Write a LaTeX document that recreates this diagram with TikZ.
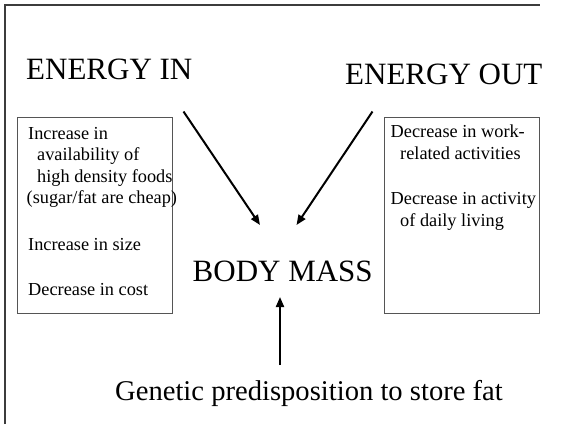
\documentclass[tikz,border=0pt]{standalone}
\usepackage{fontspec}
\setmainfont{Liberation Serif}
\usetikzlibrary{arrows.meta}
\definecolor{boxgray}{RGB}{85,85,85}
\definecolor{framegray}{RGB}{60,60,60}
\tikzset{
  small/.style={anchor=base west,inner sep=0pt,font=\fontsize{18.3}{21.5}\selectfont},
  big/.style={anchor=base west,inner sep=0pt,font=\fontsize{31}{36}\selectfont},
  gen/.style={anchor=base west,inner sep=0pt,font=\fontsize{28.6}{34}\selectfont},
  listbox/.style={draw=boxgray,line width=0.9pt,inner sep=0pt,anchor=north west},
  arr/.style={line width=2pt,-{Triangle[length=10pt,width=8pt]}}
}
\begin{document}
\begin{tikzpicture}[x=1pt,y=-1pt]
\useasboundingbox (0,0) rectangle (562,424);
\fill[white] (0,0) rectangle (562,424);
\draw[framegray,line width=1.4pt] (5,424) -- (5,5) -- (540,5);
% titles
\node[big] (ein) at (26,79) {ENERGY IN};
\node[big] (eout) at (345,84) {ENERGY OUT};
\node[big] (bm) at (192.5,281) {BODY MASS};
\node[gen] (gen) at (115,400) {Genetic predisposition to store fat};
% boxes
\node[listbox,minimum width=155pt,minimum height=196pt] (lbox) at (17,117) {};
\node[listbox,minimum width=155pt,minimum height=196pt] (rbox) at (384,117) {};
% left box text
\node[small] (l1) at (28,139.3) {Increase in};
\node[small] (l2) at (37,160.8) {availability of};
\node[small] (l3) at (37,182.3) {high density foods};
\node[small] (l4) at (26.5,203.5) {(sugar/fat are cheap)};
\node[small] (l5) at (28,250) {Increase in size};
\node[small] (l6) at (28,295) {Decrease in cost};
% right box text
\node[small] (r1) at (390.5,137.5) {Decrease in work-};
\node[small] (r2) at (400,159.3) {related activities};
\node[small] (r3) at (390.5,204) {Decrease in activity};
\node[small] (r4) at (400,226) {of daily living};
% arrow ends
\coordinate (a1s) at (183.5,111.5);
\coordinate (a1e) at (260,225);
\coordinate (a2s) at (372.5,111.5);
\coordinate (a2e) at (296.5,225);
\coordinate (a3s) at (280,365);
\coordinate (a3e) at (280,297);
\draw[arr] (a1s) -- (a1e);
\draw[arr] (a2s) -- (a2e);
\draw[arr] (a3s) -- (a3e);
\end{tikzpicture}
\end{document}
